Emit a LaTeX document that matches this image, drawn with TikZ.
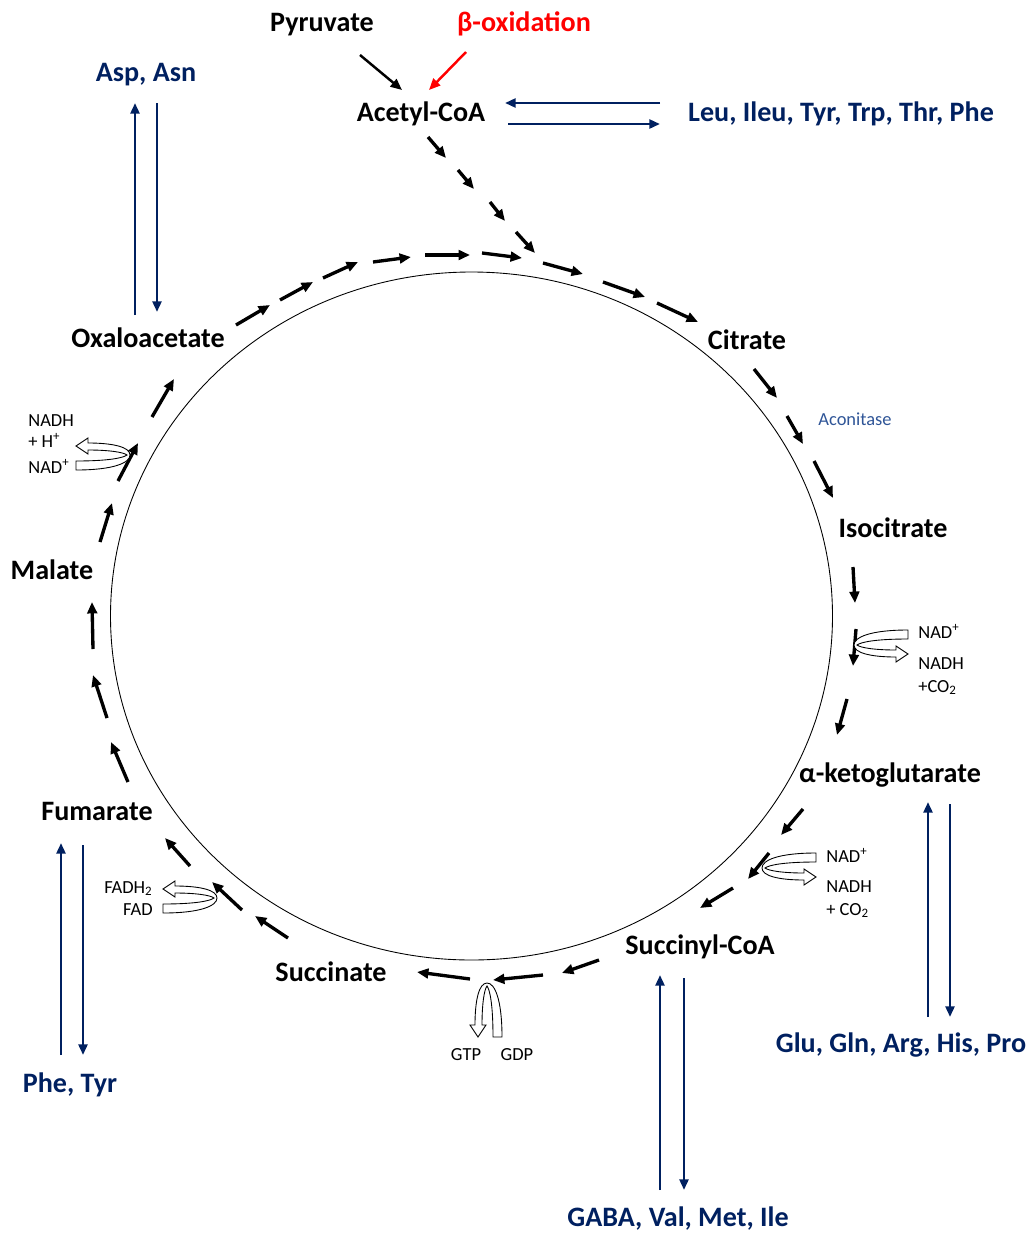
\documentclass[tikz,border=0pt]{standalone}
\usepackage{fontspec}
\setmainfont{Carlito}
\usetikzlibrary{arrows.meta,calc}
\definecolor{aminoblue}{HTML}{002060}
\definecolor{enzblue}{HTML}{2F5597}

\tikzset{
  metab/.style={font=\fontsize{16}{19}\selectfont\bfseries, anchor=base, inner sep=0pt},
  amino/.style={metab, text=aminoblue},
  small/.style={font=\fontsize{10.5}{12}\selectfont, anchor=base west, inner sep=0pt},
  cycarrow/.style={line width=1.9pt, -{Triangle[length=6.5pt,width=5.5pt]}},
  feedarrow/.style={line width=1.4pt, -{Triangle[length=6.5pt,width=5.5pt]}},
  bluearrow/.style={aminoblue, line width=1.6pt, -{Triangle[length=6pt,width=5pt]}},
  cofactor/.style={draw=black, fill=white, line width=0.5pt},
}

% open U-turn arrow, apex at (#1,#2), turned by #3
\newcommand{\cofactorarrow}[3]{%
  \begin{scope}[shift={(#1,#2)},rotate=#3]
    \draw[cofactor] (-52,15) .. controls (-15,15) and (2,8) .. (2,0)
      .. controls (2,-8) and (-15,-12) .. (-40,-12) -- (-40,-17) -- (-52,-9)
      -- (-40,-1) -- (-40,-5) .. controls (-20,-5) and (-5,-3) .. (-1,0)
      .. controls (-5,3) and (-20,6) .. (-52,6) -- cycle;
  \end{scope}}

\begin{document}
\begin{tikzpicture}[x=0.02cm,y=-0.02cm]
\useasboundingbox (0,0) rectangle (1031,1234);

% the cycle
\draw[line width=0.5pt] (471.5,616) ellipse [x radius=361, y radius=344];

% metabolites
\node[metab] (pyr) at (322,31) {Pyruvate};
\node[metab, text=red] (box) at (524,31) {β-oxidation};
\node[metab] (acoa) at (421,121) {Acetyl-CoA};
\node[metab] (oaa) at (148,347) {Oxaloacetate};
\node[metab] (cit) at (747,349) {Citrate};
\node[metab] (icit) at (893,537) {Isocitrate};
\node[metab] (mal) at (52,579) {Malate};
\node[metab] (akg) at (890,782) {α-ketoglutarate};
\node[metab] (fum) at (97,820) {Fumarate};
\node[metab] (scoa) at (700,954) {Succinyl-CoA};
\node[metab] (succ) at (331,981) {Succinate};

% amino acids
\node[amino] (asp) at (146,81) {Asp, Asn};
\node[amino] (leu) at (841,121) {Leu, Ileu, Tyr, Trp, Thr, Phe};
\node[amino] (phe) at (70,1092) {Phe, Tyr};
\node[amino] (glu) at (901,1052) {Glu, Gln, Arg, His, Pro};
\node[amino] (gaba) at (678,1226) {GABA, Val, Met, Ile};

% enzyme and cofactors
\node[small, anchor=base, text=enzblue] (acon) at (855,425) {Aconitase};
\node[small] (nadh1) at (28,426) {NADH};
\node[small] (h1) at (28,447) {+ H\textsuperscript{+}};
\node[small] (nad1) at (28,473) {NAD\textsuperscript{+}};
\node[small] (nad2) at (918,638) {NAD\textsuperscript{+}};
\node[small] (nadh2) at (918,669) {NADH};
\node[small] (co2a) at (918,692) {+CO\textsubscript{2}};
\node[small] (nad3) at (826,862) {NAD\textsuperscript{+}};
\node[small] (nadh3) at (826,892) {NADH};
\node[small] (co2b) at (826,915) {+ CO\textsubscript{2}};
\node[small, anchor=base east] (fadh) at (153,893) {FADH\textsubscript{2}};
\node[small, anchor=base east] (fad) at (153,915) {FAD};
\node[small, anchor=base] (gtp) at (466,1060) {GTP};
\node[small, anchor=base] (gdp) at (517,1060) {GDP};

% feeding into acetyl-CoA
\draw[feedarrow] ($(pyr.base)+(38,24)$) -- ($(acoa.base)+(-19,-31)$);
\draw[feedarrow, red] ($(box.base)+(-58,21)$) -- ($(acoa.base)+(8,-31)$);

% steps round the cycle
\foreach \ax/\ay/\bx/\by in {
  236/325/270/305, 280/300/313/282, 323/278/358/262, 373/262/411/257,
  425/255/470/255, 482/253/522/258, 543/263/583/274, 603/282/645/297,
  657/303/698/322,
  428/137/446/158, 458/170/474/189, 490/202/505/221, 516/232/535/253,
  754/369/777/398, 787/416/803/444, 814/461/833/498,
  853/567/855/603, 856/629/853/666, 847/699/837/735,
  803/809/781/835, 769/853/748/879, 733/888/700/908,
  599/960/562/973, 543/975/493/980, 470/979/417/972,
  288/938/255/916, 242/910/212/882, 190/866/165/838,
  128/782/111/742, 107/718/93/675, 93/649/92/602, 100/542/112/503,
  118/481/138/443, 152/417/174/379}
  \draw[cycarrow] (\ax,\ay) -- (\bx,\by);

% cofactor turns
\cofactorarrow{128}{455}{0}
\cofactorarrow{215}{898}{0}
\cofactorarrow{856}{645}{180}
\cofactorarrow{764}{868}{180}
\cofactorarrow{487}{985}{90}

% exchange with amino acids
\draw[bluearrow] ($(oaa.base)+(-13,-32)$) -- ($(asp.base)+(-11,22)$);
\draw[bluearrow] ($(asp.base)+(11,22)$) -- ($(oaa.base)+(9,-35)$);
\draw[bluearrow] ($(leu.base)+(-181,-18)$) -- ($(acoa.base)+(84,-18)$);
\draw[bluearrow] ($(acoa.base)+(87,3)$) -- ($(leu.base)+(-181,3)$);
\draw[bluearrow] ($(phe.base)+(-9,-37)$) -- ($(fum.base)+(-36,23)$);
\draw[bluearrow] ($(fum.base)+(-14,25)$) -- ($(phe.base)+(13,-37)$);
\draw[bluearrow] ($(glu.base)+(27,-35)$) -- ($(akg.base)+(38,20)$);
\draw[bluearrow] ($(akg.base)+(60,22)$) -- ($(glu.base)+(49,-35)$);
\draw[bluearrow] ($(gaba.base)+(-18,-36)$) -- ($(scoa.base)+(-40,21)$);
\draw[bluearrow] ($(scoa.base)+(-16,24)$) -- ($(gaba.base)+(6,-36)$);
\end{tikzpicture}
\end{document}
